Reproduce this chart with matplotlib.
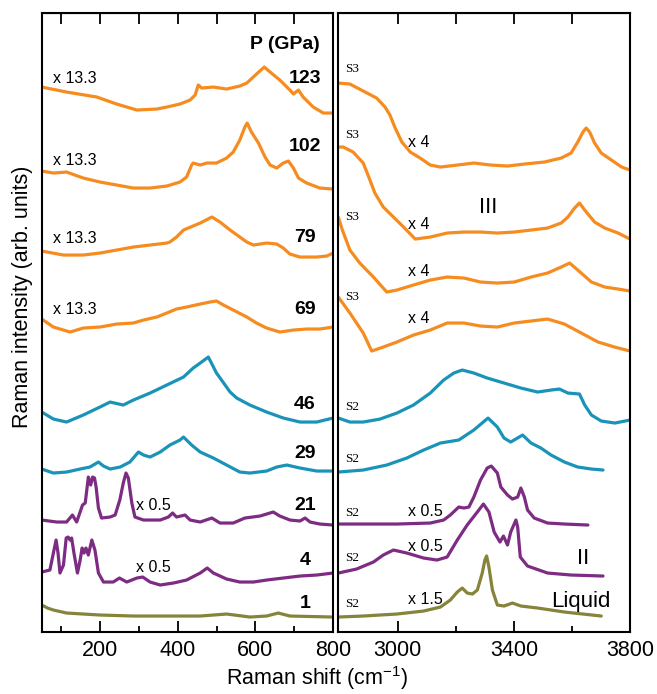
import matplotlib
matplotlib.use("Agg")
import matplotlib.pyplot as plt

plt.rcParams['font.family'] = ['Liberation Sans', 'DejaVu Sans']
plt.rcParams['mathtext.fontset'] = 'custom'
plt.rcParams['mathtext.rm'] = 'Liberation Sans'
plt.rcParams['mathtext.it'] = 'Liberation Sans:italic'

ORANGE = '#F68B1F'
BLUE = '#1A93B8'
PURPLE = '#7D2B83'
OLIVE = '#85843A'

# ---- low-frequency region (cm-1), intensity offset per pressure ----
l123_x = [50, 114, 192, 243, 295, 346, 372, 406, 432, 445, 453, 462, 492, 526, 560, 578, 603, 623, 638, 663, 689, 698, 711, 723, 749, 775, 800]
l123_y = [545, 540, 535, 528, 522, 523, 525, 528, 532, 537, 547, 544, 545, 543, 546, 549, 558, 565, 560, 552, 542, 538, 542, 535, 525, 519, 519]

l102_x = [50, 80, 114, 157, 200, 243, 286, 329, 372, 406, 423, 436, 440, 458, 475, 500, 526, 543, 560, 573, 579, 590, 608, 625, 638, 655, 672, 685, 698, 711, 732, 766, 800]
l102_y = [461, 459, 460, 454, 450, 447, 444, 444, 446, 450, 455, 467, 469, 467, 469, 469, 474, 480, 492, 505, 509, 500, 489, 475, 467, 464, 469, 471, 464, 454, 449, 444, 443]

l79_x = [50, 106, 157, 200, 243, 286, 329, 372, 380, 397, 415, 458, 488, 509, 535, 578, 595, 629, 655, 672, 689, 715, 758, 784, 800]
l79_y = [381, 377, 377, 379, 382, 385, 387, 389, 390, 395, 402, 409, 415, 410, 402, 390, 387, 389, 388, 384, 378, 375, 375, 376, 379]

l69_x = [50, 80, 123, 157, 200, 243, 286, 312, 346, 372, 397, 423, 458, 483, 500, 518, 543, 578, 603, 629, 663, 698, 732, 766, 800]
l69_y = [313, 305, 300, 304, 305, 308, 309, 312, 315, 319, 323, 325, 328, 330, 331, 327, 322, 315, 309, 304, 300, 302, 303, 303, 305]

l46_x = [50, 80, 114, 157, 200, 226, 260, 286, 329, 372, 415, 440, 458, 479, 500, 535, 552, 586, 629, 672, 715, 758, 800]
l46_y = [220, 213, 210, 217, 225, 230, 227, 232, 239, 247, 255, 264, 269, 275, 259, 240, 234, 227, 220, 214, 210, 210, 214]

l29_x = [50, 80, 114, 149, 174, 196, 209, 226, 252, 277, 299, 312, 329, 355, 380, 406, 415, 436, 458, 492, 526, 560, 586, 629, 655, 681, 715, 758, 800]
l29_y = [163, 159, 160, 163, 165, 170, 166, 163, 165, 170, 180, 177, 175, 180, 187, 192, 195, 187, 180, 174, 167, 160, 159, 161, 165, 167, 164, 161, 161]

l21_x = [50, 89, 114, 129, 140, 155, 162, 167, 170, 176, 181, 186, 190, 196, 204, 226, 239, 251, 260, 267, 273, 282, 290, 312, 355, 376, 387, 397, 419, 432, 458, 488, 509, 543, 573, 612, 629, 646, 663, 689, 715, 728, 741, 766, 800]
l21_y = [112, 110, 110, 117, 110, 127, 129, 145, 155, 147, 155, 154, 145, 124, 114, 115, 117, 132, 149, 159, 154, 129, 115, 112, 112, 115, 119, 115, 117, 112, 110, 114, 109, 109, 114, 116, 118, 120, 116, 112, 111, 114, 110, 108, 107]

l4_x = [50, 71, 80, 87, 92, 97, 106, 113, 118, 123, 127, 133, 142, 149, 154, 159, 164, 170, 179, 187, 196, 209, 234, 250, 269, 295, 310, 329, 355, 389, 423, 458, 476, 492, 526, 560, 595, 629, 672, 715, 758, 800]
l4_y = [60, 62, 79, 92, 79, 59, 67, 94, 95, 92, 94, 79, 59, 72, 84, 79, 84, 77, 92, 82, 59, 50, 50, 54, 50, 54, 55, 50, 47, 49, 52, 59, 64, 59, 53, 50, 50, 52, 54, 56, 57, 59]

l1_x = [50, 65, 80, 114, 200, 286, 372, 458, 526, 586, 629, 659, 689, 800]
l1_y = [27, 24, 22, 19, 17, 16, 16, 16, 18, 15, 16, 19, 16, 15]

# ---- O-H stretching region (cm-1) ----
r123_x = [2795, 2835, 2881, 2927, 2956, 2973, 2991, 3014, 3043, 3077, 3112, 3147, 3205, 3262, 3320, 3378, 3436, 3505, 3563, 3597, 3620, 3638, 3649, 3661, 3678, 3701, 3736, 3771, 3800]
r123_y = [549, 548, 541, 534, 525, 517, 504, 490, 480, 474, 467, 465, 467, 469, 467, 466, 468, 470, 474, 479, 490, 500, 504, 500, 489, 479, 472, 465, 462]

r102_x = [2795, 2812, 2846, 2881, 2904, 2921, 2950, 2985, 3020, 3060, 3112, 3170, 3228, 3285, 3343, 3401, 3459, 3516, 3563, 3586, 3609, 3626, 3644, 3678, 3713, 3759, 3800]
r102_y = [485, 485, 480, 469, 452, 439, 425, 415, 405, 393, 395, 399, 400, 400, 399, 400, 402, 404, 409, 415, 424, 429, 422, 410, 404, 399, 393]

r79_x = [2795, 2809, 2835, 2869, 2916, 2962, 2997, 3054, 3112, 3170, 3228, 3285, 3343, 3401, 3459, 3516, 3563, 3592, 3620, 3667, 3713, 3759, 3800]
r79_y = [415, 402, 382, 369, 355, 340, 342, 347, 352, 355, 354, 350, 349, 350, 355, 359, 365, 369, 362, 350, 345, 343, 341]

r69_x = [2795, 2835, 2881, 2910, 2950, 2997, 3054, 3112, 3170, 3228, 3285, 3343, 3401, 3459, 3516, 3574, 3632, 3690, 3747, 3800]
r69_y = [335, 319, 299, 281, 285, 290, 297, 302, 309, 309, 306, 305, 309, 311, 313, 308, 299, 290, 285, 281]

r46_x = [2795, 2835, 2881, 2939, 2997, 3054, 3112, 3158, 3193, 3222, 3262, 3308, 3366, 3424, 3482, 3528, 3557, 3586, 3626, 3644, 3667, 3701, 3748, 3800]
r46_y = [214, 210, 210, 213, 219, 227, 239, 252, 259, 262, 259, 254, 249, 244, 240, 242, 243, 239, 238, 227, 217, 211, 209, 212]

r29_x = [2795, 2881, 2962, 3031, 3089, 3147, 3210, 3262, 3311, 3343, 3366, 3389, 3430, 3459, 3493, 3528, 3574, 3620, 3667, 3707]
r29_y = [160, 162, 167, 174, 182, 189, 192, 202, 214, 205, 194, 190, 197, 189, 184, 177, 170, 165, 163, 162]

r21_x = [2795, 2881, 2997, 3112, 3158, 3181, 3210, 3228, 3245, 3262, 3285, 3308, 3322, 3343, 3355, 3378, 3395, 3413, 3424, 3436, 3447, 3470, 3516, 3574, 3655]
r21_y = [108, 108, 108, 109, 112, 117, 125, 124, 125, 135, 152, 164, 166, 159, 145, 137, 133, 135, 144, 135, 122, 114, 109, 108, 107]

r4_x = [2795, 2858, 2916, 2950, 2985, 3031, 3089, 3135, 3170, 3205, 3239, 3274, 3295, 3314, 3332, 3352, 3364, 3378, 3389, 3407, 3413, 3422, 3447, 3516, 3597, 3707]
r4_y = [59, 63, 70, 77, 82, 79, 74, 72, 75, 92, 107, 120, 128, 120, 100, 90, 96, 87, 100, 112, 105, 75, 66, 59, 57, 56]

r1_x = [2795, 2881, 2997, 3089, 3147, 3181, 3205, 3222, 3239, 3257, 3274, 3291, 3300, 3306, 3314, 3326, 3343, 3366, 3395, 3424, 3482, 3574, 3701]
r1_y = [15, 16, 18, 21, 25, 32, 40, 44, 39, 38, 42, 59, 72, 76, 65, 42, 27, 26, 29, 26, 24, 20, 16]

pressures = ['123', '102', '79', '69', '46', '29', '21', '4', '1']
pressure_y = [554, 486, 395, 323, 228, 179, 127, 72, 29]
colors = [ORANGE] * 4 + [BLUE] * 2 + [PURPLE] * 2 + [OLIVE]

left_x = [l123_x, l102_x, l79_x, l69_x, l46_x, l29_x, l21_x, l4_x, l1_x]
left_y = [l123_y, l102_y, l79_y, l69_y, l46_y, l29_y, l21_y, l4_y, l1_y]
right_x = [r123_x, r102_x, r79_x, r69_x, r46_x, r29_x, r21_x, r4_x, r1_x]
right_y = [r123_y, r102_y, r79_y, r69_y, r46_y, r29_y, r21_y, r4_y, r1_y]

fig = plt.figure(figsize=(6.57, 6.94), dpi=100)
axl = fig.add_axes([0.0635, 0.0893, 0.4434, 0.8919])
axr = fig.add_axes([0.5149, 0.0893, 0.4440, 0.8919])

for xs, ys, c in zip(left_x, left_y, colors):
    axl.plot(xs, ys, color=c, lw=2.3, solid_joinstyle='round', solid_capstyle='round')
for xs, ys, c in zip(right_x, right_y, colors):
    axr.plot(xs, ys, color=c, lw=2.3, solid_joinstyle='round', solid_capstyle='round')

axl.set_xlim(50, 800)
axr.set_xlim(2795, 3800)
axl.set_xticks([200, 400, 600, 800])
axl.set_xticks([100, 300, 500, 700], minor=True)
axr.set_xticks([3000, 3400, 3800])
axr.set_xticks([3200, 3600], minor=True)

for ax, top_ticks in [(axl, range(100, 801, 100)), (axr, range(3000, 3801, 200))]:
    ax.set_ylim(0, 619)
    ax.set_yticks([])
    for s in ax.spines.values():
        s.set_linewidth(1.5)
    ax.tick_params(axis='x', which='major', direction='in', length=8, width=1.3,
                   labelsize=15.5, pad=6)
    ax.tick_params(axis='x', which='minor', direction='in', length=4.5, width=1.3)
    top = ax.secondary_xaxis('top')
    top.set_xticks(list(top_ticks))
    top.tick_params(direction='in', length=8, width=1.3, labeltop=False)

# pressure labels
axl.text(676, 588, 'P (GPa)', ha='center', va='center', fontsize=14, fontweight='bold')
for p, y in zip(pressures, pressure_y):
    axl.text(728, y, p, ha='center', va='center', fontsize=14, fontweight='bold')

# scale factors, left
for y in [554, 472, 394, 323]:
    axl.text(80, y, 'x 13.3', ha='left', va='center', fontsize=11.5)
for y in [127, 65]:
    axl.text(294, y, 'x 0.5', ha='left', va='center', fontsize=11.5)

# scale factors, right
for y in [490, 408, 361, 314]:
    axr.text(3035, y, 'x 4', ha='left', va='center', fontsize=11.5)
for y in [121, 86]:
    axr.text(3035, y, 'x 0.5', ha='left', va='center', fontsize=11.5)
axr.text(3035, 33, 'x 1.5', ha='left', va='center', fontsize=11.5)

for y in [563, 497, 415, 335]:
    axr.text(2820, y, 'S3', ha='left', va='center', fontsize=9.5, family='Liberation Serif')
for y in [225, 173, 119, 74, 28]:
    axr.text(2820, y, 'S2', ha='left', va='center', fontsize=9.5, family='Liberation Serif')

axr.text(3311, 425, 'III', ha='center', va='center', fontsize=16)
axr.text(3639, 74, 'II', ha='center', va='center', fontsize=16)
axr.text(3632, 31, 'Liquid', ha='center', va='center', fontsize=16)

fig.text(0.4825, 0.013, 'Raman shift (cm$^{-1}$)', ha='center', va='baseline', fontsize=15.5)
fig.text(0.035, 0.572, 'Raman intensity (arb. units)', ha='center', va='center',
         rotation=90, fontsize=15.5)

fig.savefig('out.png', dpi=100)
